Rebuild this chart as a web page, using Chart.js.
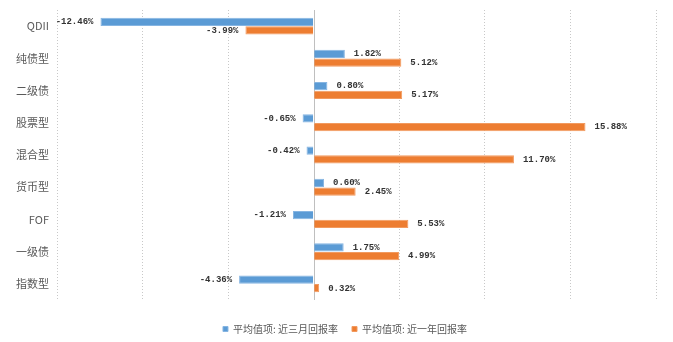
<!DOCTYPE html>
<html>
<head>
<meta charset="utf-8">
<script src="https://cdn.jsdelivr.net/npm/chart.js@4/dist/chart.umd.min.js"></script>
<style>
  html, body { margin: 0; padding: 0; background: #fff; }
  #wrap { width: 673px; height: 342px; }
</style>
</head>
<body>
<div id="wrap"><canvas id="fundChart"></canvas></div>
<script>
const categories = ['QDII', '纯债型', '二级债', '股票型', '混合型', '货币型', 'FOF', '一级债', '指数型'];
const threeMonth = [-12.46, 1.82, 0.80, -0.65, -0.42, 0.60, -1.21, 1.75, -4.36];
const oneYear = [-3.99, 5.12, 5.17, 15.88, 11.70, 2.45, 5.53, 4.99, 0.32];
const seriesNames = ['平均值项: 近三月回报率', '平均值项: 近一年回报率'];

// value labels next to each bar
const barLabels = {
  id: 'barLabels',
  afterDatasetsDraw(chart) {
    const c = chart.ctx;
    c.save();
    c.font = 'bold 9px "Liberation Mono", monospace';
    c.fillStyle = '#333';
    c.textBaseline = 'middle';
    chart.data.datasets.forEach((ds, i) => {
      chart.getDatasetMeta(i).data.forEach((bar, j) => {
        const v = ds.data[j];
        const txt = v.toFixed(2) + '%';
        if (v >= 0) {
          c.textAlign = 'left';
          c.fillText(txt, bar.x + 9, bar.y);
        } else {
          c.textAlign = 'right';
          c.fillText(txt, bar.x - 7, bar.y);
        }
      });
    });
    c.restore();
  }
};

// solid zero line, and move the legend a bit (down and right)
const zeroLine = {
  id: 'zeroLine',
  afterLayout(chart) {
    const lg = chart.legend;
    lg.top += 10; lg.bottom += 10;
    lg.left += 17; lg.right += 17;
  },
  beforeDatasetsDraw(chart) {
    const x = chart.scales.x.getPixelForValue(0);
    const a = chart.chartArea;
    const c = chart.ctx;
    c.save();
    c.strokeStyle = '#bfbfbf';
    c.lineWidth = 1;
    c.beginPath();
    c.moveTo(Math.round(x) + 0.5, a.top);
    c.lineTo(Math.round(x) + 0.5, a.bottom);
    c.stroke();
    c.restore();
  }
};

const ctx = document.getElementById('fundChart').getContext('2d');
new Chart(ctx, {
  type: 'bar',
  data: {
    labels: categories,
    datasets: [
      { label: seriesNames[0], data: threeMonth, backgroundColor: '#5B9BD5', borderColor: '#86b5e2', borderWidth: 1 },
      { label: seriesNames[1], data: oneYear, backgroundColor: '#ED7D31', borderColor: '#f29a5f', borderWidth: 1 }
    ]
  },
  options: {
    indexAxis: 'y',
    responsive: true,
    maintainAspectRatio: false,
    animation: false,
    layout: { padding: { top: 10, right: 17, left: 0, bottom: 8 } },
    datasets: { bar: { categoryPercentage: 0.54, barPercentage: 0.95 } },
    plugins: {
      legend: {
        position: 'bottom',
        labels: {
          boxWidth: 5, boxHeight: 5, padding: 14,
          color: '#595959',
          font: { size: 10, family: '"Noto Sans CJK SC", sans-serif' }
        }
      },
      tooltip: { enabled: false }
    },
    scales: {
      x: {
        min: -15, max: 20,
        ticks: { display: false, stepSize: 5 },
        grid: {
          drawTicks: false,
          color: ctx => ctx.tick && ctx.tick.value === 0 ? 'rgba(0,0,0,0)' : '#c8c8c8'
        },
        border: { display: false, dash: [1, 2] }
      },
      y: {
        afterFit: s => { s.width = 57; s.paddingTop = 0; s.paddingBottom = 0; },
        ticks: {
          color: '#595959', padding: 8,
          font: { size: 11, family: '"Noto Sans CJK SC", sans-serif' }
        },
        grid: { display: false, drawTicks: false },
        border: { display: false }
      }
    }
  },
  plugins: [zeroLine, barLabels]
});
</script>
</body>
</html>
